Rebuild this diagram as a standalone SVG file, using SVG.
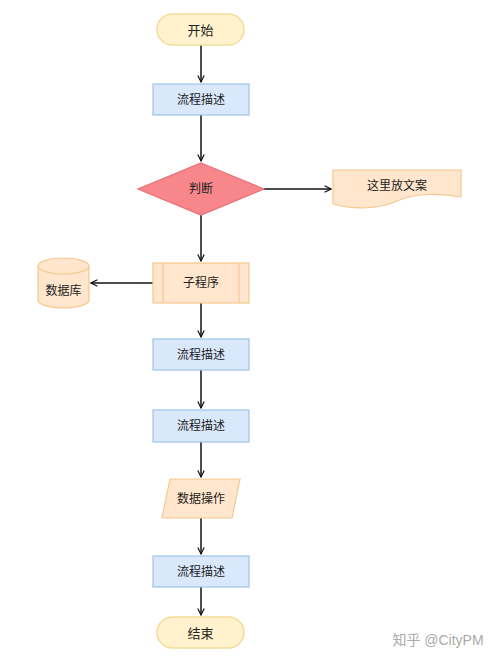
<svg xmlns="http://www.w3.org/2000/svg" width="500" height="663" viewBox="0 0 500 663">
<defs>
<style>
text{font-family:"Liberation Sans","Noto Sans CJK SC",sans-serif;font-size:12px;fill:#222;text-anchor:middle;dominant-baseline:central}
.term{fill:#fff2cc;stroke:#f3dc9a;stroke-width:1.5}
.proc{fill:#dae8fc;stroke:#9ec3ea;stroke-width:1.2}
.orange{fill:#ffe6cc;stroke:#f3c98f;stroke-width:1.2}
.dec{fill:#f8878b;stroke:#e96e73;stroke-width:1.2}
.edge{fill:none;stroke:#111;stroke-width:1.5}
</style>
<marker id="arr" viewBox="0 0 10 10" refX="9" refY="5" markerWidth="8" markerHeight="8" orient="auto" markerUnits="userSpaceOnUse">
<path d="M1,1 L9,5 L1,9" fill="none" stroke="#111" stroke-width="1.5"/>
</marker>
</defs>
<rect width="500" height="663" fill="#fff"/>
<g id="edges">
<path class="edge" d="M201,45 V82" marker-end="url(#arr)"/>
<path class="edge" d="M201,115 V161" marker-end="url(#arr)"/>
<path class="edge" d="M264,189 H331" marker-end="url(#arr)"/>
<path class="edge" d="M201,215 V261" marker-end="url(#arr)"/>
<path class="edge" d="M153,283 H91" marker-end="url(#arr)"/>
<path class="edge" d="M201,303 V337" marker-end="url(#arr)"/>
<path class="edge" d="M201,370 V408" marker-end="url(#arr)"/>
<path class="edge" d="M201,442 V477" marker-end="url(#arr)"/>
<path class="edge" d="M201,518 V554" marker-end="url(#arr)"/>
<path class="edge" d="M201,587 V615" marker-end="url(#arr)"/>
</g>
<g id="start">
<rect class="term" x="157" y="14" width="87" height="31" rx="15.5"/>
<text x="200.5" y="30" style="font-size:13px">开始</text>
</g>
<g id="proc1">
<rect class="proc" x="153" y="84" width="96" height="31"/>
<text x="201" y="100">流程描述</text>
</g>
<g id="decision">
<polygon class="dec" points="201,163 264,189 201,215 138,189"/>
<text x="201" y="189">判断</text>
</g>
<g id="doc">
<path class="orange" d="M333,170 H461 V197 C440,193 415,193 397,201 C380,209 355,210 333,204 Z"/>
<text x="397" y="186">这里放文案</text>
</g>
<g id="subproc">
<rect class="orange" x="153" y="263" width="96" height="40"/>
<line class="orange" x1="163" y1="263" x2="163" y2="303"/>
<line class="orange" x1="239" y1="263" x2="239" y2="303"/>
<text x="201" y="283">子程序</text>
</g>
<g id="db">
<path class="orange" d="M38,266 V300 A25.5,8 0 0 0 89,300 V266 A25.5,8 0 0 0 38,266 Z"/>
<path class="orange" d="M38,266 A25.5,8 0 0 0 89,266" fill="none"/>
<text x="63.5" y="291">数据库</text>
</g>
<g id="proc2">
<rect class="proc" x="153" y="339" width="96" height="31"/>
<text x="201" y="355">流程描述</text>
</g>
<g id="proc3">
<rect class="proc" x="153" y="410" width="96" height="32"/>
<text x="201" y="426">流程描述</text>
</g>
<g id="data">
<polygon class="orange" points="170,479 240,479 232,518 162,518"/>
<text x="201" y="498.5">数据操作</text>
</g>
<g id="proc4">
<rect class="proc" x="153" y="556" width="96" height="31"/>
<text x="201" y="572">流程描述</text>
</g>
<g id="end">
<rect class="term" x="157" y="617" width="87" height="31" rx="15.5"/>
<text x="200.5" y="633" style="font-size:13px">结束</text>
</g>
<text x="438" y="640" style="font-size:14px;fill:#aaa">知乎 @CityPM</text>
</svg>
